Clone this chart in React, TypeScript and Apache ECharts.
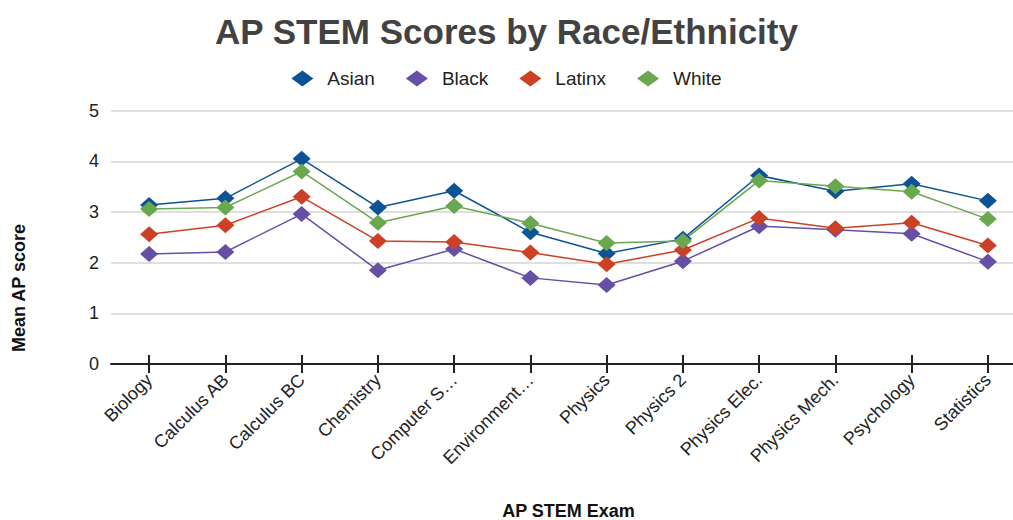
import React, { useEffect, useRef } from "react";
import * as echarts from "echarts";

const categories = [
  "Biology",
  "Calculus AB",
  "Calculus BC",
  "Chemistry",
  "Computer S…",
  "Environment…",
  "Physics",
  "Physics 2",
  "Physics Elec.",
  "Physics Mech.",
  "Psychology",
  "Statistics",
];
const asian = [3.14, 3.27, 4.05, 3.09, 3.42, 2.6, 2.18, 2.47, 3.72, 3.41, 3.56, 3.22];
const black = [2.17, 2.21, 2.96, 1.85, 2.27, 1.7, 1.56, 2.03, 2.72, 2.65, 2.57, 2.02];
const latinx = [2.56, 2.74, 3.3, 2.43, 2.41, 2.2, 1.97, 2.25, 2.88, 2.68, 2.79, 2.34];
const white = [3.06, 3.09, 3.8, 2.79, 3.12, 2.78, 2.39, 2.43, 3.62, 3.51, 3.4, 2.86];
const yTicks = [0, 1, 2, 3, 4, 5];

const FONT = "'Liberation Sans', Arial, Helvetica, sans-serif";

export default function App() {
  const ref = useRef<HTMLDivElement>(null);
  useEffect(() => {
    if (!ref.current) return;
    const chart = echarts.init(ref.current, null, { renderer: "svg" });
    const mk = (name: string, data: number[], color: string) => ({
      name,
      type: "line",
      data,
      symbol: "diamond",
      symbolSize: [18, 16],
      itemStyle: { color },
      lineStyle: { color, width: 1.5 },
      emphasis: { disabled: true },
      z: 5,
    });
    chart.setOption({
      animation: false,
      textStyle: { fontFamily: FONT },
      title: {
        text: "AP STEM Scores by Race/Ethnicity",
        left: "center",
        top: 9,
        textStyle: { fontSize: 35, fontWeight: "bold", color: "#424242", fontFamily: FONT },
      },
      legend: {
        top: 64,
        left: "center",
        icon: "diamond",
        itemWidth: 22,
        itemHeight: 16,
        itemGap: 31,
        textStyle: { fontSize: 19, color: "#222", fontFamily: FONT, padding: [0, 0, 0, 9] },
        data: ["Asian", "Black", "Latinx", "White"],
      },
      grid: {
        left: 111,
        right: -13,
        top: 110.7,
        bottom: 156,
        containLabel: false,
        outerBoundsMode: "none",
      },
      xAxis: [
        {
          type: "category",
          data: categories,
          boundaryGap: true,
          z: 4,
          axisLine: { show: true, onZero: false, lineStyle: { color: "#222", width: 2 } },
          axisTick: { show: true, interval: 0, alignWithLabel: true, length: 9, lineStyle: { color: "#222", width: 2 } },
          axisLabel: { rotate: 45, fontSize: 18, color: "#222", margin: 13, fontFamily: FONT, interval: 0 },
          name: "AP STEM Exam",
          nameLocation: "middle",
          nameGap: 138,
          nameTextStyle: { fontSize: 18, fontWeight: "bold", color: "#111", fontFamily: FONT },
        },
        {
          type: "category",
          data: categories,
          position: "bottom",
          boundaryGap: true,
          z: 4,
          axisLine: { show: false },
          axisTick: { show: true, interval: 0, inside: true, alignWithLabel: true, length: 9, lineStyle: { color: "#222", width: 2 } },
          axisLabel: { show: false },
        },
      ],
      yAxis: {
        type: "value",
        min: yTicks[0],
        max: yTicks[yTicks.length - 1],
        interval: 1,
        axisLine: { show: false },
        axisTick: { show: false },
        axisLabel: { fontSize: 18, color: "#222", margin: 12, fontFamily: FONT },
        splitLine: { lineStyle: { color: "#d4d4d4", width: 1.5 } },
      },
      graphic: [
        {
          type: "text",
          x: 19,
          y: 288,
          rotation: Math.PI / 2,
          style: {
            text: "Mean AP score",
            fontSize: 18,
            fontWeight: "bold",
            fill: "#111",
            fontFamily: FONT,
            align: "center",
            verticalAlign: "middle",
          },
        },
      ],
      series: [
        mk("Asian", asian, "#0b5394"),
        mk("Black", black, "#674ea7"),
        mk("Latinx", latinx, "#cc4125"),
        mk("White", white, "#6aa84f"),
      ],
    });
    return () => chart.dispose();
  }, []);
  return (
    <div
      ref={ref}
      style={{ position: "fixed", left: 0, top: 0, width: 1013, height: 520, background: "#fff" }}
    />
  );
}
